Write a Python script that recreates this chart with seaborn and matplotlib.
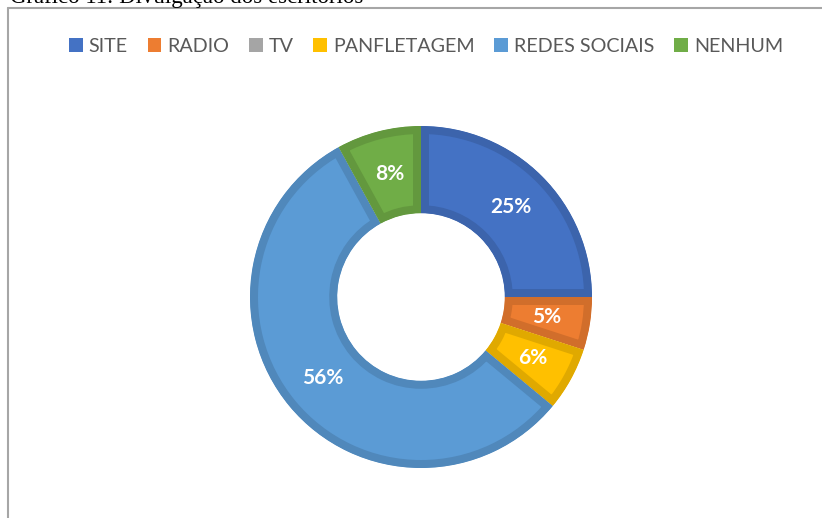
import matplotlib
matplotlib.use("Agg")
import matplotlib.pyplot as plt
import matplotlib.colors as mcolors
from matplotlib.patches import Rectangle, Wedge
from matplotlib.lines import Line2D
import numpy as np
import seaborn as sns

categories = ["SITE", "RADIO", "TV", "PANFLETAGEM", "REDES SOCIAIS", "NENHUM"]
shares = [25, 5, 0, 6, 56, 8]
colors = ["#4472C4", "#ED7D31", "#A5A5A5", "#FFC000", "#5B9BD5", "#70AD47"]
title = "Gráfico 11: Divulgação dos escritórios"

sns.set_theme(style="white")
plt.rcParams["font.family"] = ["Lato", "DejaVu Sans"]
palette = sns.color_palette(colors)

W, H = 822, 518
fig = plt.figure(figsize=(W / 100, H / 100), dpi=100)
fig.patch.set_facecolor("white")

# Frame around the chart area (top and left edges visible)
fig.add_artist(Line2D([8 / W, 8 / W], [0, 1 - 8 / H], color="#A6A6A6", lw=1.5,
                      transform=fig.transFigure))
fig.add_artist(Line2D([8 / W, 1], [1 - 8 / H, 1 - 8 / H], color="#A6A6A6", lw=1.5,
                      transform=fig.transFigure))

# Caption, partly cut by the top of the figure
fig.text(10 / W, 1 - 3 / H, title, family="Liberation Serif", fontsize=16.5,
         color="black", ha="left", va="baseline")

cx, cy, R = 421, 297, 171
ax = fig.add_axes([(cx - R) / W, (H - cy - R) / H, 2 * R / W, 2 * R / H])
ax.set_aspect("equal")

ring = 0.51
wedges, _ = ax.pie(shares, colors=palette, startangle=90, counterclock=False,
                   radius=1.0, wedgeprops=dict(width=ring))
for w, c in zip(wedges, colors):
    dark = tuple(v * 0.88 for v in mcolors.to_rgb(c))
    w.set_edgecolor(dark)
    w.set_linewidth(11.5)
    # keep the border stroke inside the slice
    clip = Wedge(w.center, w.r, w.theta1, w.theta2, width=w.width,
                 transform=ax.transData)
    w.set_clip_on(True)
    w.set_clip_path(clip)

# Percentage labels at the middle of the ring
total = sum(shares)
angle = 90.0
for v in shares:
    span = 360.0 * v / total
    mid = np.deg2rad(angle - span / 2)
    angle -= span
    if v == 0:
        continue
    r = 1.0 - ring / 2
    ax.text(r * np.cos(mid), r * np.sin(mid), f"{v}%", ha="center", va="center",
            color="white", fontsize=15, fontweight="bold")
ax.set_xlim(-1, 1)
ax.set_ylim(-1, 1)
ax.axis("off")

handles = [Rectangle((0, 0), 1, 1, facecolor=c, edgecolor="none") for c in palette]
fig.legend(handles, categories, ncol=6, loc="center", bbox_to_anchor=(426 / W, 1 - 46 / H),
           frameon=False, fontsize=14.2, handlelength=0.7, handleheight=0.7,
           handletextpad=0.3, columnspacing=1.0, labelcolor="#595959")

fig.savefig("out.png", dpi=100, facecolor="white")
